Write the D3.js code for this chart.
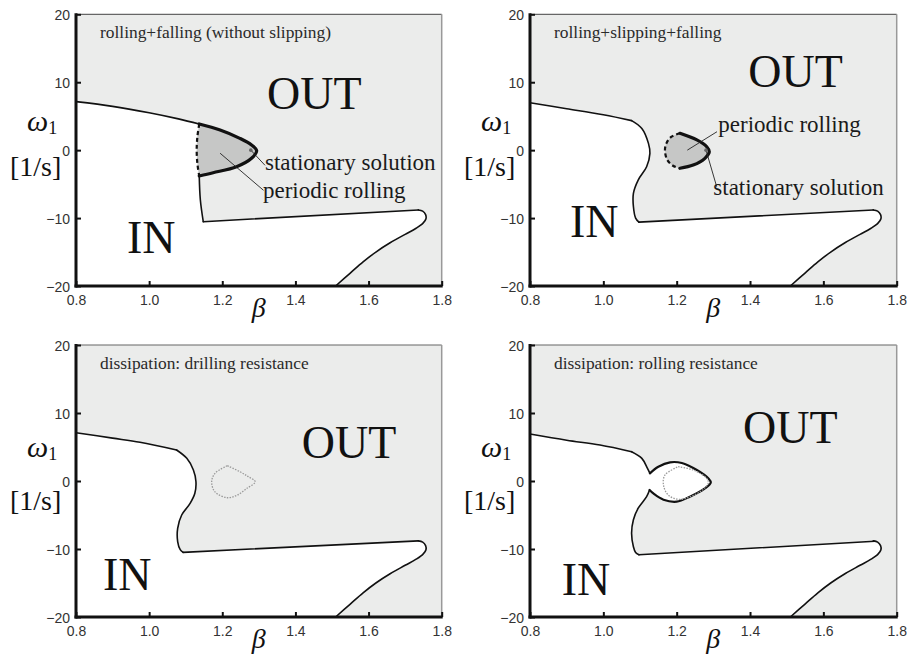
<!DOCTYPE html>
<html>
<head>
<meta charset="utf-8">
<script src="https://cdn.jsdelivr.net/npm/d3@7"></script>
<style>
  body { margin: 0; background: #fff; }
  svg { display: block; }
</style>
</head>
<body>
<svg id="chart" width="915" height="656"></svg>
<script>
// ---- axis ticks ----
const betaTicks = [0.8, 1.0, 1.2, 1.4, 1.6, 1.8];
const omegaTicks = [-20, -10, 0, 10, 20];

const panelTitles = [
  "rolling+falling (without slipping)",
  "rolling+slipping+falling",
  "dissipation: drilling resistance",
  "dissipation: rolling resistance"
];

// ---- stability boundaries, points are [beta, omega1] ----
// common lower tongue (right tip of the IN region)
const tongueEdge = [[1.736, -8.8], [1.748, -8.98], [1.756, -9.5], [1.757, -10.1], [1.749, -10.75],
  [1.73, -11.5], [1.70, -12.4], [1.66, -13.6], [1.62, -15.0], [1.585, -16.45], [1.55, -18.1], [1.51, -20]];

// (a) rolling + falling without slipping
const aUpper = [[0.8, 7.14], [0.9, 6.45], [1.0, 5.5], [1.08, 4.6], [1.137, 3.85]];
const aPeriodicEdge = [[1.137, 3.85], [1.132, 2.0], [1.130, 0], [1.132, -2.0], [1.137, -3.8]];
const aStationaryArc = [[1.137, 3.85], [1.194, 2.96], [1.248, 1.74], [1.28, 0.76], [1.294, -0.08],
  [1.28, -1.2], [1.239, -2.44], [1.175, -3.32], [1.137, -3.8]];
const aWall = [[1.137, -3.8], [1.140, -7.3], [1.148, -10.53]];
const aShelf = [[1.148, -10.53], [1.736, -8.8]];

// (b) rolling + slipping + falling
const bUpper = [[0.8, 6.98], [0.9, 6.1], [1.0, 5.2], [1.077, 4.35]];
const bBulge = [[1.077, 4.35], [1.105, 3.2], [1.123, 1.0], [1.127, -0.47], [1.118, -2.44],
  [1.095, -4.4], [1.082, -6.35], [1.082, -8.3], [1.088, -10.0], [1.097, -10.6]];
const bShelf = [[1.097, -10.6], [1.736, -8.8]];
const bPeriodicEdge = [[1.209, 2.48], [1.185, 1.95], [1.172, 1.0], [1.168, 0.0], [1.174, -1.4],
  [1.19, -2.3], [1.209, -2.67]];
const bStationaryArc = [[1.209, 2.48], [1.255, 1.5], [1.282, 0.5], [1.289, -0.23], [1.277, -1.2],
  [1.245, -2.2], [1.209, -2.67]];

// (c) drilling resistance
const cUpper = [[0.8, 7.1], [0.9, 6.3], [0.975, 5.69], [1.075, 4.56]];
const cBulge = [[1.075, 4.56], [1.103, 3.33], [1.121, 1.62], [1.128, -0.1], [1.125, -1.8],
  [1.112, -3.28], [1.089, -5.0], [1.078, -6.96], [1.078, -8.9], [1.085, -10.1], [1.093, -10.5]];
const cShelf = [[1.093, -10.5], [1.736, -8.8]];
const cFormerCycle = [[1.214, 2.25], [1.248, 1.37], [1.271, 0.64], [1.29, -0.1], [1.267, -1.1],
  [1.24, -2.1], [1.214, -2.46], [1.18, -1.6], [1.171, -0.1], [1.18, 1.13], [1.214, 2.25]];

// (d) rolling resistance
const dUpper = [[0.8, 6.9], [0.9, 6.0], [0.991, 5.29], [1.077, 4.31]];
const dNeckTop = [[1.077, 4.31], [1.105, 3.33], [1.12, 1.9], [1.127, 1.13]];
const dLoop = [[1.127, 1.13], [1.15, 2.1], [1.182, 2.75], [1.214, 2.65], [1.255, 1.62], [1.286, 0.4],
  [1.293, -0.25], [1.277, -1.08], [1.236, -2.3], [1.2, -3.04], [1.164, -2.75], [1.138, -1.9], [1.126, -1.32]];
const dNeckBottom = [[1.126, -1.32], [1.118, -2.3], [1.095, -4.0], [1.082, -5.7], [1.077, -7.7],
  [1.082, -9.66], [1.088, -10.5], [1.097, -10.85]];
const dShelf = [[1.097, -10.85], [1.74, -8.85]];
const dFormerCycle = [[1.204, 2.1], [1.245, 1.62], [1.282, 0.4], [1.286, -0.34], [1.264, -1.57],
  [1.209, -2.7], [1.177, -2.06], [1.164, -0.59], [1.168, 0.88], [1.204, 2.1]];

// ---- page layout ----
const plots = [
  { left: 76,  right: 441.7, top: 14.3, bottom: 286 },
  { left: 530, right: 896.7, top: 14.3, bottom: 286 },
  { left: 76,  right: 441.7, top: 345,  bottom: 617 },
  { left: 530, right: 896.7, top: 345,  bottom: 617 }
];

const rev = a => a.slice().reverse();

const panels = [
  {
    region: [aUpper, aPeriodicEdge, aWall, aShelf, tongueEdge],
    strokes: [[aUpper, "thin"], [aWall, "thin"], [aShelf, "thin"], [tongueEdge, "thin"],
              [aPeriodicEdge, "dash"], [aStationaryArc, "thick"]],
    islands: [[aStationaryArc, rev(aPeriodicEdge)]],
    out: [191, 94.7], inn: [51, 238.7],
    notes: [
      { text: "stationary solution", at: [189, 155.7], from: [1.278, 0], to: [189, 151], dot: true },
      { text: "periodic rolling", at: [187, 183.7], from: [1.194, -0.45], to: [187.5, 176] }
    ]
  },
  {
    region: [bUpper, bBulge, bShelf, tongueEdge],
    strokes: [[bUpper, "thin"], [bBulge, "thin"], [bShelf, "thin"], [tongueEdge, "thin"],
              [bPeriodicEdge, "dash"], [bStationaryArc, "thick"]],
    islands: [[bStationaryArc, rev(bPeriodicEdge)]],
    out: [218.3, 72.4], inn: [40, 222.4],
    notes: [
      { text: "periodic rolling", at: [188.3, 117.7], from: [1.229, 0], to: [187, 117.4] },
      { text: "stationary solution", at: [183.3, 180.7], from: [1.28, 0], to: [186.7, 172.4], dot: true }
    ]
  },
  {
    region: [cUpper, cBulge, cShelf, tongueEdge],
    strokes: [[cUpper, "thin"], [cBulge, "thin"], [cShelf, "thin"], [tongueEdge, "thin"],
              [cFormerCycle, "dot"]],
    islands: [],
    out: [225.7, 113.3], inn: [27, 245],
    notes: []
  },
  {
    region: [dUpper, dNeckTop, dLoop, dNeckBottom, dShelf, tongueEdge],
    strokes: [[dUpper, "thin"], [dNeckTop, "thin"], [dLoop, "loop"], [dNeckBottom, "thin"],
              [dShelf, "thin"], [tongueEdge, "thin"], [dFormerCycle, "dot"]],
    islands: [],
    out: [213, 98.3], inn: [31.7, 250],
    notes: []
  }
];

const strokeStyles = {
  thin:  { width: 1.6, color: "#111", dash: null },
  thick: { width: 3.2, color: "#111", dash: null },
  loop:  { width: 2.2, color: "#111", dash: null },
  dash:  { width: 2.2, color: "#111", dash: "4,3" },
  dot:   { width: 1.3, color: "#9a9a9a", dash: "1.5,1.3" }
};

const ylabelOffsets = [
  { omega: 116.7, unit: 162 },
  { omega: 116.7, unit: 162 },
  { omega: 112, unit: 165 },
  { omega: 112, unit: 165 }
];

const svg = d3.select("#chart");
const serif = "'Liberation Serif', 'Times New Roman', serif";
const sans = "'Liberation Sans', Arial, sans-serif";

panels.forEach((p, i) => {
  const box = plots[i];
  const x = d3.scaleLinear().domain([0.8, 1.8]).range([box.left, box.right]);
  const y = d3.scaleLinear().domain([-20, 20]).range([box.bottom, box.top]);
  const line = d3.line().x(d => x(d[0])).y(d => y(d[1])).curve(d3.curveCatmullRom.alpha(0.5));
  const g = svg.append("g");

  // OUT background
  g.append("rect")
    .attr("x", box.left).attr("y", box.top)
    .attr("width", box.right - box.left).attr("height", box.bottom - box.top)
    .attr("fill", "#ebeceb");

  // IN region (white), bounded by the stability boundary and the axes
  let d = p.region.map((seg, k) => k ? line(seg).replace(/^M/, "L") : line(seg)).join("");
  d += `L${x(0.8)},${y(-20)}Z`;
  g.append("path").attr("d", d).attr("fill", "#fff");

  // periodic rolling islands
  p.islands.forEach(parts => {
    const dd = parts.map((seg, k) => k ? line(seg).replace(/^M/, "L") : line(seg)).join("") + "Z";
    g.append("path").attr("d", dd).attr("fill", "#c6c7c6");
  });

  // boundary curves
  p.strokes.forEach(([seg, kind]) => {
    const s = strokeStyles[kind];
    g.append("path").attr("d", line(seg))
      .attr("fill", "none")
      .attr("stroke", s.color)
      .attr("stroke-width", s.width)
      .attr("stroke-linejoin", "round")
      .attr("stroke-linecap", kind === "dash" || kind === "dot" ? "butt" : "round")
      .attr("stroke-dasharray", s.dash);
  });

  // annotations
  p.notes.forEach(n => {
    g.append("line")
      .attr("x1", x(n.from[0])).attr("y1", y(n.from[1]))
      .attr("x2", box.left + n.to[0]).attr("y2", box.top + n.to[1])
      .attr("stroke", "#222").attr("stroke-width", 0.9);
    if (n.dot) {
      g.append("circle").attr("cx", x(n.from[0])).attr("cy", y(n.from[1]))
        .attr("r", 1.8).attr("fill", "#666");
    }
    g.append("text")
      .attr("x", box.left + n.at[0]).attr("y", box.top + n.at[1])
      .attr("font-family", serif).attr("font-size", 23).attr("fill", "#1a1a1a")
      .text(n.text);
  });

  // region labels
  g.append("text").attr("x", box.left + p.out[0]).attr("y", box.top + p.out[1])
    .attr("font-family", serif).attr("font-size", 46).attr("fill", "#111").text("OUT");
  g.append("text").attr("x", box.left + p.inn[0]).attr("y", box.top + p.inn[1])
    .attr("font-family", serif).attr("font-size", 46).attr("fill", "#111").text("IN");

  // panel title
  g.append("text").attr("x", box.left + 24).attr("y", box.top + 23.5)
    .attr("font-family", serif).attr("font-size", 17.4).attr("fill", "#2a2a2a")
    .text(panelTitles[i]);

  // frame: thin top/right, heavy left/bottom
  g.append("line").attr("x1", box.left).attr("x2", box.right).attr("y1", box.top).attr("y2", box.top)
    .attr("stroke", "#666").attr("stroke-width", 1.2);
  g.append("line").attr("x1", box.right).attr("x2", box.right).attr("y1", box.top).attr("y2", box.bottom)
    .attr("stroke", "#999").attr("stroke-width", 1.5);

  const xAxis = g.append("g").attr("transform", `translate(0,${box.bottom})`)
    .call(d3.axisBottom(x).tickValues(betaTicks).tickFormat(d3.format(".1f"))
      .tickSizeInner(-5).tickSizeOuter(0).tickPadding(9));
  const yAxis = g.append("g").attr("transform", `translate(${box.left},0)`)
    .call(d3.axisLeft(y).tickValues(omegaTicks).tickFormat(d3.format("d"))
      .tickSizeInner(-5).tickSizeOuter(0).tickPadding(6));
  [xAxis, yAxis].forEach(ax => {
    ax.select(".domain").remove();
    ax.selectAll(".tick line").attr("stroke", "#111").attr("stroke-width", 2);
    ax.selectAll(".tick text").attr("font-family", sans).attr("font-size", 14).attr("fill", "#333");
  });
  yAxis.selectAll(".tick text").attr("dy", "0.36em");

  g.append("line").attr("x1", box.left).attr("x2", box.left).attr("y1", box.top - 1).attr("y2", box.bottom + 1.5)
    .attr("stroke", "#111").attr("stroke-width", 3);
  g.append("line").attr("x1", box.left - 1.5).attr("x2", box.right + 1).attr("y1", box.bottom).attr("y2", box.bottom)
    .attr("stroke", "#111").attr("stroke-width", 3);

  // axis titles
  const off = ylabelOffsets[i];
  const om = g.append("text").attr("x", box.left - 49).attr("y", box.top + off.omega)
    .attr("font-family", serif).attr("fill", "#111");
  om.append("tspan").attr("font-size", 30).attr("font-style", "italic").text("ω");
  om.append("tspan").attr("font-size", 18).attr("dy", 3).text("1");
  g.append("text").attr("x", box.left - 66).attr("y", box.top + off.unit)
    .attr("font-family", serif).attr("font-size", 28).attr("fill", "#111").text("[1/s]");
  g.append("text").attr("x", x(1.3)).attr("y", box.bottom + 31).attr("text-anchor", "middle")
    .attr("font-family", serif).attr("font-size", 28).attr("font-style", "italic")
    .attr("fill", "#111").text("β");
});
</script>
</body>
</html>
